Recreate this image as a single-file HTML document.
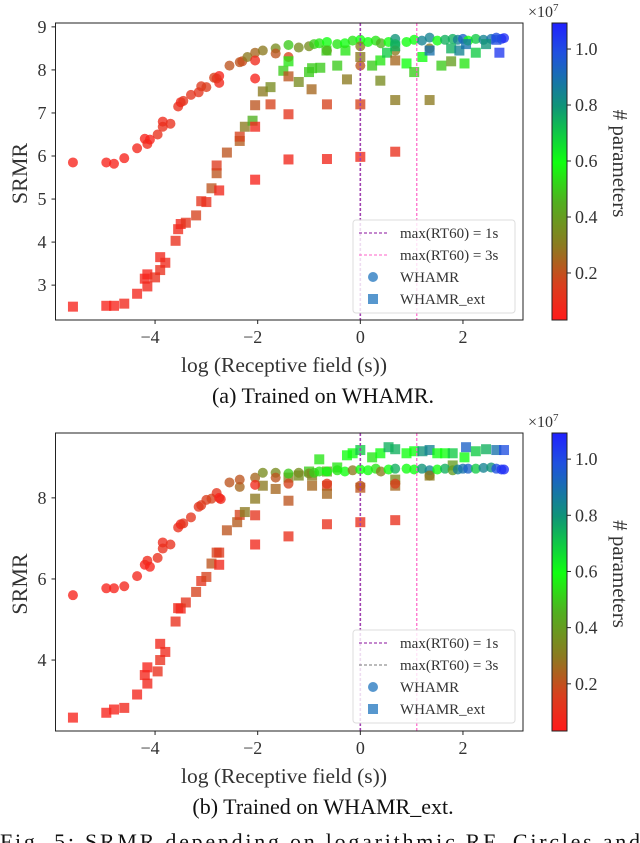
<!DOCTYPE html>
<html><head><meta charset="utf-8"><style>
html,body{margin:0;padding:0;background:#fff;}
svg{display:block;font-family:"Liberation Serif",serif;}
</style></head><body>
<svg id="fig" width="640" height="843" viewBox="0 0 640 843" xmlns="http://www.w3.org/2000/svg">
<defs>
<linearGradient id="cbar" x1="0" y1="1" x2="0" y2="0">
<stop offset="0" stop-color="#ff1a1a"/><stop offset="0.12" stop-color="#d8401e"/>
<stop offset="0.25" stop-color="#8c7a20"/><stop offset="0.4" stop-color="#50b020"/>
<stop offset="0.53" stop-color="#10ff10"/><stop offset="0.72" stop-color="#109478"/>
<stop offset="0.9" stop-color="#2050e0"/><stop offset="1" stop-color="#2020ff"/>
</linearGradient>
</defs>
</svg>
<script>
// ---- data: top panel (trained on WHAMR) ----
const topCircX=[-5.6,-4.95,-4.8,-4.6,-4.35,-4.2,-4.15,-4.1,-3.95,-3.85,-3.85,-3.7,-3.55,-3.5,-3.45,-3.3,-3.15,-3.1,-3.0,-2.85,-2.75,-2.75,-2.8,-2.55,-2.35,-2.3,-2.2,-2.05,-2.05,-2.05,-1.9,-1.65,-1.65,-1.4,-1.4,-1.2,-1.0,-0.9,-0.8,-0.65,-0.65,-0.45,-0.3,-0.15,0.0,0.0,0.0,0.15,0.3,0.4,0.55,0.68,0.68,0.68,0.9,1.05,1.2,1.35,1.35,1.5,1.65,1.8,1.9,2.0,2.1,2.25,2.4,2.55,2.65,2.75,2.8];
const topCircY=[5.85,5.85,5.82,5.95,6.18,6.4,6.28,6.38,6.5,6.8,6.68,6.75,7.15,7.25,7.28,7.42,7.48,7.62,7.6,7.82,7.86,7.7,7.8,8.1,8.18,8.2,8.3,8.4,8.22,7.8,8.45,8.5,8.38,8.58,8.3,8.52,8.55,8.6,8.62,8.65,8.45,8.6,8.62,8.68,8.7,8.55,8.1,8.65,8.68,8.62,8.65,8.72,8.6,8.45,8.65,8.7,8.68,8.75,8.5,8.68,8.7,8.72,8.7,8.72,8.68,8.72,8.7,8.72,8.75,8.72,8.74];
const topCircP=[0.03,0.03,0.03,0.03,0.04,0.03,0.06,0.03,0.08,0.06,0.08,0.08,0.08,0.05,0.1,0.1,0.1,0.12,0.13,0.15,0.03,0.05,0.1,0.2,0.2,0.18,0.3,0.25,0.06,0.03,0.3,0.35,0.2,0.5,0.15,0.35,0.35,0.5,0.55,0.6,0.3,0.55,0.6,0.55,0.6,0.3,0.2,0.6,0.55,0.45,0.6,0.8,0.75,0.3,0.6,0.6,0.85,0.85,0.3,0.6,0.75,0.75,0.85,0.95,0.6,0.7,0.85,0.9,1.0,1.05,1.07];
const topSqX=[-5.6,-4.95,-4.8,-4.6,-4.35,-4.2,-4.15,-4.15,-4.0,-3.9,-3.9,-3.8,-3.6,-3.55,-3.5,-3.4,-3.2,-3.1,-3.0,-2.9,-2.8,-2.8,-2.75,-2.6,-2.35,-2.35,-2.25,-2.1,-2.05,-2.05,-2.05,-1.9,-1.75,-1.75,-1.5,-1.4,-1.4,-1.4,-1.4,-1.2,-1.0,-0.95,-0.94,-0.78,-0.65,-0.65,-0.45,-0.26,-0.29,-0.66,0.0,0.0,0.0,0.23,0.39,0.39,0.52,0.68,0.68,0.68,0.68,0.9,1.05,1.21,1.35,1.35,1.58,1.77,1.77,1.93,2.03,2.06,2.25,2.45,2.71,2.65];
const topSqY=[2.5,2.52,2.52,2.57,2.8,3.15,3.25,2.97,3.18,3.65,3.35,3.52,4.03,4.3,4.42,4.45,4.62,4.95,4.93,5.25,5.6,5.78,5.2,6.08,6.35,6.45,6.68,6.82,7.18,6.68,5.45,7.5,7.6,7.2,7.98,8.2,7.85,6.97,5.92,7.72,7.95,7.55,8.04,8.05,7.2,5.93,8.1,7.78,8.45,8.45,7.2,5.98,8.3,8.1,8.22,7.75,8.4,8.22,7.3,6.1,8.55,8.15,7.95,8.3,7.3,8.45,8.1,8.2,8.5,8.45,8.15,8.6,8.4,8.6,8.4,8.7];
const topSqP=[0.03,0.03,0.03,0.05,0.04,0.04,0.03,0.05,0.08,0.05,0.08,0.06,0.08,0.06,0.05,0.1,0.15,0.1,0.08,0.2,0.2,0.12,0.05,0.2,0.22,0.15,0.3,0.45,0.2,0.05,0.03,0.3,0.35,0.15,0.5,0.55,0.2,0.1,0.05,0.35,0.5,0.25,0.5,0.5,0.15,0.05,0.5,0.3,0.55,0.5,0.15,0.06,0.3,0.5,0.55,0.35,0.7,0.25,0.3,0.08,0.75,0.6,0.5,0.6,0.3,0.9,0.5,0.4,0.75,0.85,0.55,0.9,0.7,0.8,1.05,1.0];
// ---- data: bottom panel (trained on WHAMR_ext) ----
const botCircX=[-5.6,-4.95,-4.8,-4.6,-4.35,-4.2,-4.15,-4.1,-3.95,-3.85,-3.85,-3.7,-3.55,-3.5,-3.45,-3.3,-3.15,-3.1,-3.0,-2.9,-2.8,-2.75,-2.72,-2.55,-2.35,-2.35,-2.05,-2.05,-1.9,-1.65,-1.65,-1.4,-1.4,-1.2,-1.0,-0.9,-0.8,-0.65,-0.65,-0.45,-0.3,-0.15,0.0,0.0,0.15,0.3,0.4,0.55,0.68,0.68,0.9,1.05,1.2,1.35,1.35,1.5,1.65,1.8,1.9,2.0,2.1,2.25,2.4,2.55,2.65,2.75,2.8];
const botCircY=[5.6,5.77,5.77,5.82,6.07,6.35,6.45,6.3,6.52,6.9,6.75,6.85,7.27,7.35,7.37,7.52,7.78,7.82,7.95,7.98,8.12,8.0,7.97,8.38,8.27,8.45,8.5,8.32,8.62,8.62,8.5,8.6,8.35,8.62,8.6,8.62,8.65,8.65,8.35,8.68,8.65,8.68,8.7,8.3,8.68,8.72,8.65,8.7,8.72,8.35,8.72,8.7,8.72,8.68,8.55,8.7,8.72,8.68,8.7,8.72,8.72,8.72,8.74,8.75,8.72,8.7,8.7];
const botCircP=[0.03,0.03,0.03,0.04,0.04,0.03,0.06,0.03,0.08,0.06,0.08,0.08,0.08,0.05,0.1,0.1,0.1,0.12,0.13,0.15,0.1,0.03,0.05,0.2,0.25,0.2,0.25,0.06,0.35,0.35,0.2,0.5,0.15,0.35,0.35,0.5,0.55,0.6,0.12,0.55,0.6,0.3,0.6,0.2,0.6,0.55,0.3,0.6,0.75,0.15,0.6,0.6,0.8,0.85,0.3,0.6,0.75,0.4,0.85,0.9,0.95,0.7,0.85,0.8,1.0,1.05,1.07];
const botSqX=[-5.6,-4.95,-4.8,-4.6,-4.35,-4.2,-4.15,-4.15,-3.95,-3.9,-3.9,-3.8,-3.6,-3.55,-3.5,-3.4,-3.2,-3.1,-3.0,-2.9,-2.8,-2.75,-2.75,-2.6,-2.4,-2.35,-2.25,-2.05,-2.05,-2.05,-1.9,-1.65,-1.4,-1.4,-1.4,-1.2,-1.0,-0.94,-0.94,-0.8,-0.65,-0.65,-0.65,-0.65,-0.45,-0.26,-0.15,0.0,0.0,0.0,0.23,0.39,0.55,0.68,0.68,0.68,0.68,0.9,1.05,1.21,1.35,1.35,1.5,1.65,1.8,1.8,2.03,2.06,2.25,2.45,2.65,2.8];
const botSqY=[2.58,2.7,2.78,2.82,3.15,3.63,3.82,3.42,3.72,4.4,4.0,4.2,4.95,5.28,5.27,5.42,5.68,5.95,6.05,6.38,6.65,6.65,6.35,7.2,7.4,7.58,7.65,7.98,7.57,6.85,8.3,8.22,8.5,7.93,7.05,8.55,8.65,8.55,8.3,8.95,8.65,8.3,8.1,7.35,8.75,9.05,9.1,9.18,8.25,7.4,9.0,9.1,9.25,9.2,8.45,8.3,7.45,9.1,9.15,9.15,9.18,8.55,9.1,9.1,9.1,8.8,9.0,9.25,9.15,9.2,9.18,9.18];
const botSqP=[0.03,0.03,0.03,0.05,0.04,0.04,0.03,0.05,0.08,0.05,0.08,0.06,0.08,0.06,0.05,0.1,0.15,0.1,0.15,0.2,0.15,0.12,0.05,0.2,0.22,0.15,0.3,0.3,0.1,0.05,0.3,0.25,0.3,0.2,0.08,0.35,0.5,0.3,0.25,0.55,0.4,0.15,0.25,0.08,0.55,0.6,0.6,0.7,0.2,0.08,0.55,0.6,0.75,0.75,0.35,0.25,0.08,0.6,0.6,0.8,0.85,0.3,0.6,0.6,0.7,0.4,0.6,0.95,0.7,0.75,0.9,1.0];
const xTicks=[-4,-2,0,2];
const topYTicks=[3,4,5,6,7,8,9];
const botYTicks=[4,6,8];
const cbTicks=[0.2,0.4,0.6,0.8,1.0];

const NS="http://www.w3.org/2000/svg";
const svg=document.getElementById('fig');
function mk(tag,attrs,parent){const e=document.createElementNS(NS,tag);for(const k in attrs)e.setAttribute(k,attrs[k]);(parent||svg).appendChild(e);return e;}
const stops=[[0,[255,26,26]],[0.15,[214,66,30]],[0.3,[140,122,32]],[0.45,[80,176,32]],[0.6,[16,255,16]],[0.8,[16,148,120]],[1.0,[32,80,224]],[1.1,[32,32,255]]];
function cmap(v){for(let i=0;i<stops.length-1;i++){const a=stops[i],b=stops[i+1];if(v<=b[0]){const t=Math.max(0,(v-a[0])/(b[0]-a[0]));return 'rgb('+a[1].map((c,j)=>Math.round(c+(b[1][j]-c)*t)).join(',')+')';}}return 'rgb(32,32,255)';}

function panel(cfg){
  const L=55.5,R=523,T=cfg.top,B=cfg.bottom;
  const xs=v=>L+(v-(-5.94))/(3.17+5.94)*(R-L);
  const ys=v=>B-(v-cfg.ymin)/(cfg.ymax-cfg.ymin)*(B-T);
  const g=mk('g',{});
  
  
  const drawC=(X,Y,P)=>X.forEach((x,i)=>{const c=mk('circle',{cx:xs(x),cy:ys(Y[i]),r:5,fill:cmap(P[i]),'fill-opacity':0.78},g);
    
    });
  const drawS=(X,Y,P)=>X.forEach((x,i)=>{const s=mk('rect',{x:xs(x)-5,y:ys(Y[i])-5,width:10,height:10,fill:cmap(P[i]),'fill-opacity':0.78},g);
    
    });
  if(cfg.sqFirst){drawC(cfg.cx,cfg.cy,cfg.cp);drawS(cfg.sx,cfg.sy,cfg.sp);}else{drawS(cfg.sx,cfg.sy,cfg.sp);drawC(cfg.cx,cfg.cy,cfg.cp);}
  const v1=mk('line',{x1:xs(0),x2:xs(0),y1:T,y2:B,stroke:'#a040b0','stroke-width':1.6,'stroke-dasharray':'3,2'},g);
  
  
  const v2=mk('line',{x1:xs(1.1),x2:xs(1.1),y1:T,y2:B,stroke:'#ff60c8','stroke-width':1.2,'stroke-dasharray':'3,2'},g);
  
  
  const lg=mk('g',{},g);
  
  
  const ly=T+cfg.legTop;
  mk('rect',{x:353,y:ly,width:162,height:93,rx:3,fill:'#fff','fill-opacity':0.82,stroke:'#ddd'},lg);
  mk('line',{x1:359,x2:388,y1:ly+13,y2:ly+13,stroke:'#a040b0','stroke-width':1.3,'stroke-dasharray':'3,2'},lg);
  mk('line',{x1:359,x2:388,y1:ly+35,y2:ly+35,stroke:cfg.l2col,'stroke-width':1.1,'stroke-dasharray':'3,2'},lg);
  mk('circle',{cx:373,cy:ly+57,r:5,fill:'#3a85c5','fill-opacity':0.85},lg);
  mk('rect',{x:368,y:ly+74,width:10,height:10,fill:'#3a85c5','fill-opacity':0.85},lg);
  const lt=['max(RT60) = 1s','max(RT60) = 3s','WHAMR','WHAMR_ext'];
  lt.forEach((t,i)=>{const e=mk('text',{x:400,y:ly+18+i*22,'font-size':15,fill:'#333'},lg);e.textContent=t;
    
    });
  mk('rect',{x:L,y:T,width:R-L,height:B-T,fill:'none',stroke:'#222','stroke-width':1},g);
  xTicks.forEach(t=>{mk('line',{x1:xs(t),x2:xs(t),y1:B,y2:B+4,stroke:'#222'},g);
    const e=mk('text',{x:xs(t)-(t<0?5:0),y:B+23,'font-size':18,'text-anchor':'middle',fill:'#333'},g);e.textContent=(t<0?'\u2212':'')+Math.abs(t);
    
    });
  cfg.yt.forEach(t=>{mk('line',{x1:L-4,x2:L,y1:ys(t),y2:ys(t),stroke:'#222'},g);
    const e=mk('text',{x:L-9,y:ys(t)+6,'font-size':18,'text-anchor':'end',fill:'#333'},g);e.textContent=t;
    
    });
  const yl=mk('text',{x:0,y:0,'font-size':22,'text-anchor':'middle',fill:'#333',transform:'translate(27,'+((T+B)/2+2)+') rotate(-90)'},g);yl.textContent='SRMR';
  
  
  const xl=mk('text',{x:284,y:B+52,'font-size':21.5,'text-anchor':'middle',fill:'#333'},g);xl.textContent='log (Receptive field (s))';
  
  
  const cap=mk('text',{x:323,y:B+83,'font-size':22,'text-anchor':'middle',fill:'#111'},g);cap.textContent=cfg.caption;
  
  
  const cb=mk('rect',{x:552,y:T,width:15,height:B-T,fill:'url(#cbar)',stroke:'#222','stroke-width':1},g);
  
  
  const cs=v=>B-(v-0.032)/(1.093-0.032)*(B-T);
  cbTicks.forEach(t=>{mk('line',{x1:567,x2:571,y1:cs(t),y2:cs(t),stroke:'#222'},g);
    const e=mk('text',{x:575,y:cs(t)+6,'font-size':18,fill:'#333'},g);e.textContent=t.toFixed(1);
    
    });
  const ex=mk('text',{x:528,y:T-6,'font-size':16,fill:'#333'},g);ex.innerHTML='×10<tspan dy="-6" font-size="11">7</tspan>';
  
  
  const cl=mk('text',{x:0,y:0,'font-size':21,'text-anchor':'middle',fill:'#333',transform:'translate(613,'+((T+B)/2-8)+') rotate(90)'},g);cl.textContent='# parameters';
  
  
}
panel({name:'panel-a',top:23,bottom:320,ymin:2.19,ymax:9.09,yt:topYTicks,legTop:197,l2col:'#ff60c8',caption:'(a) Trained on WHAMR.',cx:topCircX,cy:topCircY,cp:topCircP,sx:topSqX,sy:topSqY,sp:topSqP,sqFirst:true});
panel({name:'panel-b',top:433,bottom:731,ymin:2.25,ymax:9.6,yt:botYTicks,legTop:197,l2col:'#777',caption:'(b) Trained on WHAMR_ext.',cx:botCircX,cy:botCircY,cp:botCircP,sx:botSqX,sy:botSqY,sp:botSqP,sqFirst:false});
const fc=mk('text',{x:0,y:849,'font-size':22,fill:'#111',textLength:640,lengthAdjust:'spacing'});fc.textContent='Fig. 5: SRMR depending on logarithmic RF. Circles and';


</script>
</body></html>
